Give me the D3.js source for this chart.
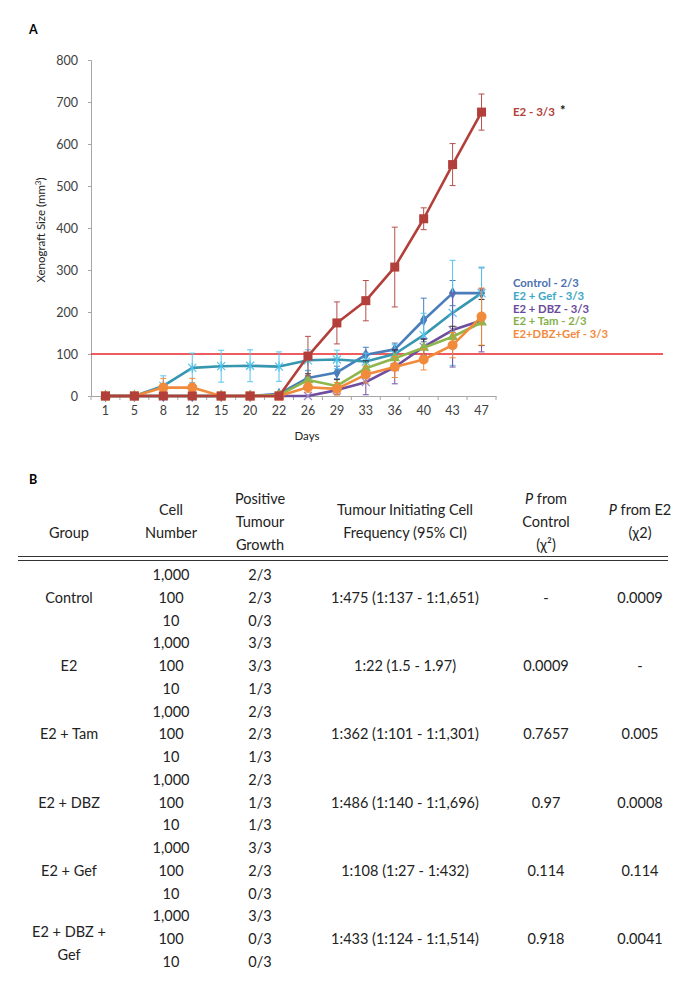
<!DOCTYPE html>
<html><head><meta charset="utf-8">
<script src="https://cdn.jsdelivr.net/npm/d3@7"></script>
<style>
html,body{margin:0;padding:0;background:#fff;}
svg{display:block;font-family:Lato,"Liberation Sans",sans-serif;}
</style></head>
<body>
<svg id="c" width="685" height="1006"></svg>
<script>
// ---------- DATA ----------
const days = ["1","5","8","12","15","20","22","26","29","33","36","40","43","47"];
const yTicks = [0,100,200,300,400,500,600,700,800];
const thresholdValue = 100;

const e2Vals      = [0,0,0,0,0,0,0,95,174,227,307,422,551,676];
const e2Err       = [0,0,0,0,0,0,0,47,50,48,95,26,50,43];
const controlVals = [0,0,0,0,0,0,5,43,56,98,111,181,245,245];
const controlErr  = [0,0,0,0,0,0,3,18,15,18,15,52,30,60];
const gefVals     = [0,0,24,67,71,72,70,85,87,82,100,145,198,245];
const gefErr      = [0,0,24,35,38,38,35,25,22,20,22,52,125,62];
const dbzVals     = [0,0,0,0,0,0,0,0,14,33,69,117,157,180];
const dbzErr      = [0,0,0,0,0,0,0,0,10,30,40,20,88,75];
const tamVals     = [0,0,0,0,0,0,2,38,24,66,90,115,141,175];
const tamErr      = [0,0,0,0,0,0,2,15,15,18,20,20,25,55];
const dbzGefVals  = [0,0,20,20,0,0,0,21,17,51,69,87,121,189];
const dbzGefErr   = [0,0,22,22,0,0,0,12,15,20,25,25,30,68];

const legendLabels = ["Control - 2/3","E2 + Gef - 3/3","E2 + DBZ - 3/3","E2 + Tam - 2/3","E2+DBZ+Gef - 3/3"];
const e2Label = "E2 - 3/3";

const tableHeaders = [
  ["Group"], ["Cell","Number"], ["Positive","Tumour","Growth"],
  ["Tumour Initiating Cell","Frequency (95% CI)"], ["P from","Control","(χ²)"], ["P from E2","(χ2)"]
];
const groups = ["Control","E2","E2 + Tam","E2 + DBZ","E2 + Gef","E2 + DBZ +\nGef"];
const cellNumbers = ["1,000","100","10"];
const positiveGrowth = [["2/3","2/3","0/3"],["3/3","3/3","1/3"],["2/3","2/3","1/3"],["2/3","1/3","1/3"],["3/3","2/3","0/3"],["3/3","0/3","0/3"]];
const ticFrequency = ["1:475 (1:137 - 1:1,651)","1:22 (1.5 - 1.97)","1:362 (1:101 - 1:1,301)","1:486 (1:140 - 1:1,696)","1:108 (1:27 - 1:432)","1:433 (1:124 - 1:1,514)"];
const pControl = ["-","0.0009","0.7657","0.97","0.114","0.918"];
const pE2 = ["0.0009","-","0.005","0.0008","0.114","0.0041"];

// ---------- CHART ----------
const svg = d3.select("#c");
const x = d3.scaleBand().domain(days).range([91,496]).paddingInner(0).paddingOuter(0);
const cx = d => x(d) + x.bandwidth()/2;
const y = d3.scaleLinear().domain([0,800]).range([396,60]);

svg.append("text").attr("x",29).attr("y",34).attr("font-size",12.5).attr("font-weight","bold").text("A");

// y axis
const yAxis = d3.axisLeft(y).tickValues(yTicks).tickSize(3).tickPadding(10);
const gy = svg.append("g").attr("transform","translate(91,0)").call(yAxis);
gy.select(".domain").attr("stroke","#a6a6a6");
gy.selectAll(".tick line").attr("stroke","#a6a6a6");
gy.selectAll(".tick text").attr("font-size",12.5).attr("fill","#404040").attr("font-family","Lato,sans-serif");

// x axis
const xAxis = d3.axisBottom(x).tickSize(0).tickPadding(10);
const gx = svg.append("g").attr("transform","translate(0,396)").call(xAxis);
gx.select(".domain").attr("stroke","#a6a6a6");
gx.selectAll(".tick text").attr("font-size",12.5).attr("fill","#404040").attr("font-family","Lato,sans-serif");
svg.append("g").selectAll("line").data(days.concat(["end"])).join("line")
  .attr("x1",(d,i)=> i<days.length ? x(d) : x(days[days.length-1])+x.bandwidth())
  .attr("x2",(d,i)=> i<days.length ? x(d) : x(days[days.length-1])+x.bandwidth())
  .attr("y1",396).attr("y2",400).attr("stroke","#a6a6a6");

svg.append("text").attr("x",307).attr("y",440).attr("text-anchor","middle").attr("font-size",11.5).attr("fill","#222").text("Days");
svg.append("text").attr("transform","translate(45,230) rotate(-90)").attr("text-anchor","middle").attr("font-size",11.5).attr("fill","#222")
  .html('Xenograft Size (mm<tspan dy="-4" font-size="8">3</tspan><tspan dy="4">)</tspan>');

// threshold line
svg.append("line").attr("x1",91).attr("x2",663).attr("y1",y(thresholdValue)).attr("y2",y(thresholdValue))
  .attr("stroke","#e8262a").attr("stroke-width",1.3);

const series = [
  {vals:controlVals, err:controlErr, line:"#4a7ebb", mark:"#4a7ebb", errc:"#4a7ebb", sym:"diamond"},
  {vals:gefVals, err:gefErr, line:"#3796b0", mark:"#52c3ea", errc:"#55c4ee", sym:"star"},
  {vals:dbzVals, err:dbzErr, line:"#6e4c9e", mark:"#9b86c4", errc:"#7650a8", sym:"cross"},
  {vals:tamVals, err:tamErr, line:"#8db74d", mark:"#8db74d", errc:"#333", sym:"triangle"},
  {vals:dbzGefVals, err:dbzGefErr, line:"#f18a3a", mark:"#f18a3a", errc:"#f18a3a", sym:"circle"},
  {vals:e2Vals, err:e2Err, line:"#b33f3a", mark:"#b33f3a", errc:"#b5504b", sym:"square"}
];

const lineGen = d3.line().x((d,i)=>cx(days[i])).y(d=>y(d));

series.forEach(s=>{
  const g = svg.append("g");
  s.vals.forEach((v,i)=>{
    const e = s.err[i]; if(!e) return;
    const px = cx(days[i]);
    g.append("line").attr("x1",px).attr("x2",px).attr("y1",y(v+e)).attr("y2",y(Math.max(0,v-e))).attr("stroke",s.errc).attr("stroke-width",1);
    g.append("line").attr("x1",px-3).attr("x2",px+3).attr("y1",y(v+e)).attr("y2",y(v+e)).attr("stroke",s.errc).attr("stroke-width",1);
    if(v-e>0) g.append("line").attr("x1",px-3).attr("x2",px+3).attr("y1",y(v-e)).attr("y2",y(v-e)).attr("stroke",s.errc).attr("stroke-width",1);
  });
  g.append("path").attr("d",lineGen(s.vals)).attr("fill","none").attr("stroke",s.line).attr("stroke-width",2.6).attr("stroke-linejoin","round");
  s.vals.forEach((v,i)=>{
    const px = cx(days[i]), py = y(v);
    if(s.sym==="square"){
      g.append("rect").attr("x",px-4.5).attr("y",py-4.5).attr("width",9).attr("height",9).attr("fill",s.mark);
    } else if(s.sym==="circle"){
      if(v===0) g.append("rect").attr("x",px-4.5).attr("y",py-4.5).attr("width",9).attr("height",9).attr("fill",s.mark);
      else g.append("circle").attr("cx",px).attr("cy",py).attr("r",5).attr("fill",s.mark);
    } else if(s.sym==="diamond"){
      g.append("path").attr("d",d3.symbol(d3.symbolDiamond,45)()).attr("transform",`translate(${px},${py})`).attr("fill",s.mark);
    } else if(s.sym==="triangle"){
      g.append("path").attr("d",d3.symbol(d3.symbolTriangle,50)()).attr("transform",`translate(${px},${py})`).attr("fill",s.mark);
    } else if(s.sym==="cross"){
      g.append("path").attr("d",`M${px-4},${py-4}L${px+4},${py+4}M${px-4},${py+4}L${px+4},${py-4}`).attr("stroke",s.mark).attr("stroke-width",1.2);
    } else if(s.sym==="star"){
      g.append("path").attr("d",`M${px-4},${py-4}L${px+4},${py+4}M${px-4},${py+4}L${px+4},${py-4}M${px},${py-5}L${px},${py+5}`).attr("stroke",s.mark).attr("stroke-width",1.2);
    }
  });
});

// labels
svg.append("text").attr("x",513).attr("y",116).attr("font-size",11.5).attr("font-weight","bold").attr("fill","#b33f3a").text(e2Label);
svg.append("text").attr("x",560).attr("y",115).attr("font-size",13).attr("font-weight","bold").attr("fill","#111").text("*");
const legendColors = ["#4a72b0","#3ca6c4","#6a4a9c","#86b04a","#f08a3c"];
legendLabels.forEach((t,i)=>{
  svg.append("text").attr("x",513).attr("y",287+i*12.8).attr("font-size",11.3).attr("font-weight","bold").attr("fill",legendColors[i]).text(t);
});

// ---------- TABLE ----------
svg.append("text").attr("x",29).attr("y",484).attr("font-size",12.5).attr("font-weight","bold").text("B");
const colX = [69,171,260,405,546,640];
const tf = "Lato,sans-serif";
const fs = 14.5;
tableHeaders.forEach((lines,ci)=>{
  const n = lines.length;
  const starts = n===3 ? 504 : (n===2 ? 515 : 538);
  lines.forEach((ln,li)=>{
    const t = svg.append("text").attr("x",colX[ci]).attr("y",starts+li*23).attr("text-anchor","middle").attr("font-size",fs).attr("fill","#222").attr("font-family",tf);
    if(ln.startsWith("P from")){
      t.append("tspan").attr("font-style","italic").text("P");
      t.append("tspan").text(ln.slice(1));
    } else t.text(ln);
  });
});
svg.append("line").attr("x1",18).attr("x2",668).attr("y1",556.5).attr("y2",556.5).attr("stroke","#333").attr("stroke-width",1.2);
svg.append("line").attr("x1",18).attr("x2",668).attr("y1",560.5).attr("y2",560.5).attr("stroke","#333").attr("stroke-width",1.2);

const rowY0 = 580, rowStep = 22.76;
groups.forEach((gname,gi)=>{
  const midY = rowY0 + (gi*3+1)*rowStep;
  const parts = gname.split("\n");
  parts.forEach((p,pi)=>{
    svg.append("text").attr("x",colX[0]).attr("y", midY + (parts.length===1?0:(pi===0?-7:16))).attr("text-anchor","middle").attr("font-size",fs).attr("fill","#222").attr("font-family",tf).text(p);
  });
  cellNumbers.forEach((cn,ri)=>{
    const yy = rowY0 + (gi*3+ri)*rowStep;
    svg.append("text").attr("x",colX[1]).attr("y",yy).attr("text-anchor","middle").attr("font-size",fs).attr("fill","#222").attr("font-family",tf).text(cn);
    svg.append("text").attr("x",colX[2]).attr("y",yy).attr("text-anchor","middle").attr("font-size",fs).attr("fill","#222").attr("font-family",tf).text(positiveGrowth[gi][ri]);
  });
  svg.append("text").attr("x",colX[3]).attr("y",midY).attr("text-anchor","middle").attr("font-size",fs).attr("fill","#222").attr("font-family",tf).text(ticFrequency[gi]);
  svg.append("text").attr("x",colX[4]).attr("y",midY).attr("text-anchor","middle").attr("font-size",fs).attr("fill","#222").attr("font-family",tf).text(pControl[gi]);
  svg.append("text").attr("x",colX[5]).attr("y",midY).attr("text-anchor","middle").attr("font-size",fs).attr("fill","#222").attr("font-family",tf).text(pE2[gi]);
});
</script>
</body></html>
